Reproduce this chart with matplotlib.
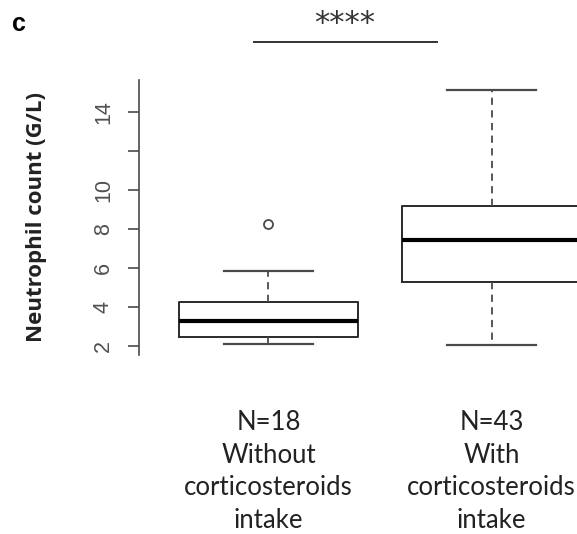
import numpy as np
import matplotlib
matplotlib.use("Agg")
import matplotlib.pyplot as plt

# box statistics (G/L)
groups = ["Without\ncorticosteroids\nintake", "With\ncorticosteroids\nintake"]
n_counts = [18, 43]
whislo = [2.10, 2.04]
q1 = [2.44, 5.28]
med = [3.28, 7.42]
q3 = [4.24, 9.21]
whishi = [5.86, 15.15]
fliers = [[8.26], []]

yticks = [2, 4, 6, 8, 10, 12, 14]
ytick_labels = ["2", "4", "6", "8", "10", "", "14"]

fig = plt.figure(figsize=(5.77, 5.34), dpi=100)
ax = fig.add_axes([0.2409, 0.3352, 0.8354, 0.515])

stats = []
for i in range(2):
    stats.append(dict(whislo=whislo[i], q1=q1[i], med=med[i], q3=q3[i],
                      whishi=whishi[i], fliers=fliers[i]))

grey = "#4a4a4a"
ax.bxp(stats, positions=[1, 2], widths=0.8, capwidths=0.4,
       boxprops=dict(color="#2a2a2a", linewidth=1.4),
       medianprops=dict(color="black", linewidth=3.0),
       whiskerprops=dict(color=grey, linewidth=1.3, linestyle=(0, (4, 3))),
       capprops=dict(color=grey, linewidth=1.6),
       flierprops=dict(marker="o", markersize=6.5, markerfacecolor="none",
                       markeredgecolor=grey, markeredgewidth=1.3))

ax.set_xlim(0.42, 2.58)
ax.set_ylim(1.52, 15.67)
for s in ["top", "right", "bottom"]:
    ax.spines[s].set_visible(False)
ax.spines["left"].set_color(grey)
ax.spines["left"].set_linewidth(1.2)
ax.set_xticks([])
ax.set_yticks(yticks)
ax.set_yticklabels(ytick_labels, rotation=90, va="center",
                   family="Liberation Sans", fontsize=15.5, color="#505050")
ax.tick_params(axis="y", length=8, width=1.2, color=grey, pad=10)

ax.set_ylabel("Neutrophil count (G/L)", family="Open Sans", fontweight="bold",
              fontsize=16, color="#222222")
ax.yaxis.set_label_coords(-0.19, 0.5)

# group labels under the boxes
for i, g in enumerate(groups):
    ax.text(i + 1, -0.2, "N=%d\n%s" % (n_counts[i], g), transform=ax.get_xaxis_transform(),
            ha="center", va="top", family="Lato", fontsize=18.5, color="#222222",
            linespacing=1.38)

# significance bar
fig.add_artist(plt.Line2D([254 / 577, 437 / 577], [1 - 42 / 534, 1 - 42 / 534],
                          color="#333333", linewidth=1.4))
fig.text(345 / 577, 1 - 24 / 534, "****", ha="center", va="center",
         fontsize=22, color="#333333", family="DejaVu Sans")
fig.text(12 / 577, 1 - 24 / 534, "c", ha="left", va="center", fontsize=18,
         fontweight="bold", family="Liberation Sans")

fig.savefig("out.png", dpi=100)
